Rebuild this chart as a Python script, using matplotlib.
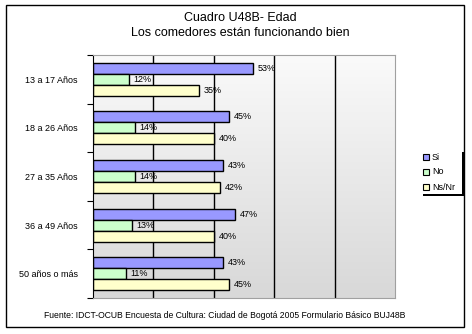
import numpy as np
import matplotlib
matplotlib.use("Agg")
import matplotlib.pyplot as plt
from matplotlib.patches import Rectangle

plt.rcParams['font.family'] = ['Liberation Sans', 'DejaVu Sans']

categories = ["13 a 17 Años", "18 a 26 Años", "27 a 35 Años", "36 a 49 Años", "50 años o más"]
si = [53, 45, 43, 47, 43]
no = [12, 14, 14, 13, 11]
nsnr = [35, 40, 42, 40, 45]
series_names = ["Si", "No", "Ns/Nr"]
colors = ["#9999FF", "#CCFFCC", "#FFFFCC"]

W, H = 472, 334
fig = plt.figure(figsize=(W / 100, H / 100), dpi=100)
fig.patch.set_facecolor("white")

def fx(px):
    return px / W

def fy(py):
    return 1 - py / H

# outer frame
fig.patches.append(Rectangle((fx(6), fy(327)), fx(464) - fx(6), fy(5) - fy(327),
                             transform=fig.transFigure, fill=False,
                             edgecolor="black", linewidth=1.0))

# titles
fig.text(fx(240), fy(18), "Cuadro U48B- Edad", ha="center", va="center", fontsize=9)
fig.text(fx(240), fy(33), "Los comedores están funcionando bien", ha="center", va="center", fontsize=9)

# plot area
left, right, top, bottom = 93, 395, 55, 298
ax = fig.add_axes([fx(left), fy(bottom), fx(right) - fx(left), fy(top) - fy(bottom)])
ax.set_xlim(0, 100)
ax.set_ylim(4.5, -0.5)

# vertical gradient background
grad = np.linspace(0, 1, 256).reshape(-1, 1)
ax.imshow(grad, extent=(0, 100, 4.5, -0.5), aspect="auto",
          cmap=matplotlib.colors.LinearSegmentedColormap.from_list(
              "bg", ["#fafafa", "#d8d8d8"]), zorder=0, origin="upper")

for xv in [20, 40, 60, 80]:
    ax.axvline(xv, color="black", linewidth=1.0, zorder=1)

h = 0.226
y = np.arange(len(categories))
for k, (vals, col) in enumerate(zip([si, no, nsnr], colors)):
    pos = y + (k - 1) * h
    ax.barh(pos, vals, height=h, color=col, edgecolor="black", linewidth=1.0,
            zorder=2, label=series_names[k])
    for p, v in zip(pos, vals):
        ax.text(v + 1.5, p, f"{v}%", va="center", ha="left", fontsize=6.5, zorder=3)

for s in ["top", "right", "bottom"]:
    ax.spines[s].set_color("#a0a0a0")
ax.spines["left"].set_color("black")
ax.set_xticks([])
ax.set_yticks(np.arange(-0.5, 5.0, 1.0))
ax.set_yticklabels([])
ax.tick_params(axis="y", which="major", length=4, direction="out", color="black")
ax.set_yticks(y, minor=True)
ax.set_yticklabels(categories, minor=True, fontsize=6.5)
ax.tick_params(axis="y", which="minor", length=0, pad=11)

# legend with shadow
lx0, lx1, ly0, ly1 = 421, 462, 150, 194
fig.patches.append(Rectangle((fx(lx0 + 2), fy(ly1 + 2)), fx(lx1) - fx(lx0), fy(ly0) - fy(ly1),
                             transform=fig.transFigure, facecolor="black", edgecolor="none"))
fig.patches.append(Rectangle((fx(lx0), fy(ly1)), fx(lx1) - fx(lx0), fy(ly0) - fy(ly1),
                             transform=fig.transFigure, facecolor="white", edgecolor="none"))
for i, (name, col) in enumerate(zip(series_names, colors)):
    cy = 157 + i * 15
    fig.patches.append(Rectangle((fx(423), fy(cy + 3)), fx(6), fy(0) - fy(6),
                                 transform=fig.transFigure, facecolor=col,
                                 edgecolor="black", linewidth=0.8))
    fig.text(fx(432), fy(cy), name, ha="left", va="center", fontsize=6.5)

fig.text(fx(225), fy(316),
         "Fuente: IDCT-OCUB Encuesta de Cultura: Ciudad de Bogotá 2005 Formulario Básico BUJ48B",
         ha="center", va="center", fontsize=6.2)

fig.savefig("out.png", dpi=100)
